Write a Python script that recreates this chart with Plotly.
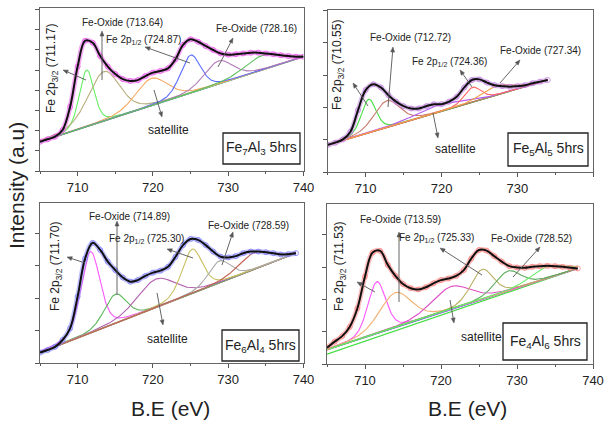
import numpy as np
import plotly.graph_objects as go

W, H = 604, 421
FONT = "Arial, Liberation Sans, sans-serif"

# ---------------- data ----------------
# Panel 1 : Fe7Al3 5hrs
p1_energy = list(range(705, 741))
p1_intensity = [1.45, 1.57, 1.70, 2.03, 3.18, 5.17, 6.45, 6.35, 5.69, 5.17,
                4.80, 4.55, 4.46, 4.50, 4.70, 4.87, 4.95, 5.08, 5.53, 6.24,
                6.52, 6.40, 6.19, 5.99, 5.82, 5.76, 5.78, 5.82, 5.86, 5.86,
                5.82, 5.78, 5.73, 5.69, 5.66, 5.66]
p1_baseline = [(705, 1.45), (740, 5.66)]
p1_centers = [711.2, 713.5, 719.8, 725.0, 728.7, 734.5]
p1_heights = [2.80, 2.45, 1.36, 1.88, 1.15, 0.72]
p1_fwhm = [2.3, 5.0, 5.0, 3.2, 4.5, 5.5]

# Panel 2 : Fe5Al5 5hrs
p2_energy = list(range(705, 735))
p2_intensity = [0.84, 0.91, 1.01, 1.25, 1.92, 2.54, 2.72, 2.62, 2.38, 2.18,
                2.04, 1.97, 1.97, 2.04, 2.10, 2.10, 2.18, 2.33, 2.62, 2.85,
                2.87, 2.77, 2.69, 2.66, 2.64, 2.66, 2.69, 2.75, 2.80, 2.85]
p2_baseline = [(705, 0.84), (734, 2.85)]
p2_centers = [710.4, 712.8, 719.5, 724.1, 727.3]
p2_heights = [1.04, 0.83, 0.22, 0.46, 0.30]
p2_fwhm = [2.3, 4.0, 7.0, 2.6, 4.5]

# Panel 3 : Fe6Al4 5hrs
p3_energy = list(range(705, 740))
p3_intensity = [0.32, 0.40, 0.50, 0.71, 1.07, 2.05, 3.23, 3.71, 3.49, 3.13,
                2.87, 2.64, 2.51, 2.56, 2.69, 2.79, 2.85, 2.97, 3.28, 3.64,
                3.83, 3.80, 3.64, 3.44, 3.28, 3.26, 3.30, 3.39, 3.44, 3.44,
                3.42, 3.39, 3.35, 3.36, 3.39]
p3_baseline = [(705, 0.32), (739, 3.39)]
p3_centers = [711.7, 715.0, 720.4, 725.2, 728.8, 733.5]
p3_heights = [2.51, 0.90, 0.88, 1.37, 0.68, 0.52]
p3_fwhm = [3.0, 3.5, 6.0, 3.2, 3.5, 5.0]

# Panel 4 : Fe4Al6 5hrs
p4_energy = list(range(705, 739))
p4_intensity = [0.51, 0.70, 0.87, 1.16, 1.73, 2.71, 3.45, 3.50, 3.07, 2.73,
                2.48, 2.35, 2.31, 2.38, 2.50, 2.60, 2.65, 2.73, 2.91, 3.27,
                3.53, 3.51, 3.34, 3.17, 3.03, 2.99, 2.98, 3.01, 3.03, 3.04,
                3.03, 3.01, 2.98, 2.96]
p4_baseline = [(705, 0.45), (738, 2.96)]
p4_baseline_low = [(705, 0.31), (738, 2.96)]
p4_centers = [711.55, 714.0, 721.3, 725.4, 728.8, 733.9]
p4_heights = [1.60, 1.08, 0.71, 0.93, 0.62, 0.36]
p4_fwhm = [2.8, 5.0, 6.0, 3.5, 4.0, 5.0]

x_ticks = [710, 720, 730, 740]
sample_labels = ["Fe<sub>7</sub>Al<sub>3</sub> 5hrs", "Fe<sub>5</sub>Al<sub>5</sub> 5hrs",
                 "Fe<sub>6</sub>Al<sub>4</sub> 5hrs", "Fe<sub>4</sub>Al<sub>6</sub> 5hrs"]
peak_labels = [
    ["Fe 2p<sub>3/2</sub> (711.17)", "Fe-Oxide (713.64)", "Fe 2p<sub>1/2</sub> (724.87)", "Fe-Oxide (728.16)"],
    ["Fe 2p<sub>3/2</sub> (710.55)", "Fe-Oxide (712.72)", "Fe 2p<sub>1/2</sub> (724.36)", "Fe-Oxide (727.34)"],
    ["Fe 2p<sub>3/2</sub> (711.70)", "Fe-Oxide (714.89)", "Fe 2p<sub>1/2</sub> (725.30)", "Fe-Oxide (728.59)"],
    ["Fe 2p<sub>3/2</sub> (711.53)", "Fe-Oxide (713.59)", "Fe 2p<sub>1/2</sub> (725.33)", "Fe-Oxide (728.52)"],
]

# ---------------- styling / layout ----------------
panels = [
    dict(energy=p1_energy, inten=p1_intensity, base=p1_baseline, c=p1_centers, h=p1_heights, w=p1_fwhm,
         comp_colors=['#66ee66', '#b8ad7c', '#f5a860', '#5a6cff', '#b07ab8', '#5cbf5c'],
         base_colors=['#5cbf5c', '#f5a860', '#5a6cff'],
         data_color='#ee55ee', px=(40, 303.5), py=(8, 171), ytop=8.07),
    dict(energy=p2_energy, inten=p2_intensity, base=p2_baseline, c=p2_centers, h=p2_heights, w=p2_fwhm,
         comp_colors=['#44dd44', '#c8786a', '#b45cf0', '#ff6666', '#f5a04a'],
         base_colors=['#44dd44', '#f5a04a', '#a03ca0'],
         data_color='#c080e0', px=(327.7, 593.3), py=(10, 172), ytop=5.02),
    dict(energy=p3_energy, inten=p3_intensity, base=p3_baseline, c=p3_centers, h=p3_heights, w=p3_fwhm,
         comp_colors=['#ff55ff', '#5cb85c', '#b060b0', '#c8c060', '#a8a8a8', '#c06050'],
         base_colors=['#5cb85c', '#c06050'],
         data_color='#8080ff', px=(40, 303.5), py=(203, 363), ytop=4.94),
    dict(energy=p4_energy, inten=p4_intensity, base=p4_baseline, c=p4_centers, h=p4_heights, w=p4_fwhm,
         comp_colors=['#ff55ff', '#f2b070', '#e050c8', '#b8b060', '#5caa5c', '#66ee66'],
         base_colors=['#c05090', '#5a6cff'],
         data_color='#ff8080', px=(327, 593), py=(204, 364.3), ytop=4.95),
]


def pv(x, c, h, w, eta=0.3):
    d = (x - c) / w
    g = np.exp(-4 * np.log(2) * d ** 2)
    lo = 1.0 / (1 + 4 * d ** 2)
    return h * (eta * lo + (1 - eta) * g)


def rgba(hexc, a):
    hexc = hexc.lstrip('#')
    r, g, b = int(hexc[0:2], 16), int(hexc[2:4], 16), int(hexc[4:6], 16)
    return f"rgba({r},{g},{b},{a})"


fig = go.Figure()
layout = dict(width=W, height=H, autosize=False, margin=dict(l=0, r=0, t=0, b=0, pad=0),
              paper_bgcolor='white', plot_bgcolor='white', showlegend=False)

for i, p in enumerate(panels):
    k = '' if i == 0 else str(i + 1)
    xa, ya = 'x' + k, 'y' + k
    (e0, b0), (e1, b1) = p['base']
    slope = (b1 - b0) / (e1 - e0)
    xg = np.arange(e0, e1 + 0.001, 0.1)
    base = b0 + slope * (xg - e0)

    for bc in p['base_colors']:
        fig.add_trace(go.Scatter(x=[e0, e1], y=[b0, b1], mode='lines', xaxis=xa, yaxis=ya,
                                 line=dict(color=bc, width=1.1), hoverinfo='skip'))
    if i == 3:
        (f0, g0), (f1, g1) = p4_baseline_low
        fig.add_trace(go.Scatter(x=[f0, f1], y=[g0, g1], mode='lines', xaxis=xa, yaxis=ya,
                                 line=dict(color='#44dd44', width=1.3), hoverinfo='skip'))
    for c, h, w, col in zip(p['c'], p['h'], p['w'], p['comp_colors']):
        fig.add_trace(go.Scatter(x=xg, y=base + pv(xg, c, h, w), mode='lines', xaxis=xa, yaxis=ya,
                                 line=dict(color=col, width=1.1), hoverinfo='skip'))
    fig.add_trace(go.Scatter(x=p['energy'], y=p['inten'], mode='lines', xaxis=xa, yaxis=ya,
                             line=dict(color=rgba(p['data_color'], 0.5), width=5, shape='spline'),
                             hoverinfo='skip'))
    fig.add_trace(go.Scatter(x=p['energy'], y=p['inten'], mode='markers', xaxis=xa, yaxis=ya,
                             marker=dict(symbol='circle-open', size=5, color=p['data_color'],
                                         line=dict(width=0.8)), hoverinfo='skip'))
    fig.add_trace(go.Scatter(x=p['energy'], y=p['inten'], mode='lines', xaxis=xa, yaxis=ya,
                             line=dict(color='#111111', width=2, shape='spline'), hoverinfo='skip'))

    xd = [p['px'][0] / W, p['px'][1] / W]
    yd = [1 - p['py'][1] / H, 1 - p['py'][0] / H]
    layout['xaxis' + k] = dict(domain=xd, range=[705, 740], anchor=ya, tickvals=x_ticks,
                               automargin=False,
                               ticks='outside', ticklen=4, tickcolor='#555',
                               tickfont=dict(family=FONT, size=13, color='#222'),
                               showline=True, linecolor='#666', linewidth=1, mirror=True,
                               showgrid=False, zeroline=False,
                               minor=dict(tickvals=[705, 715, 725, 735], ticks='outside',
                                          ticklen=2, tickcolor='#555'))
    layout['yaxis' + k] = dict(domain=yd, range=[0, p['ytop']], anchor=xa, dtick=1, tick0=0,
                               automargin=False,
                               ticks='outside', ticklen=4, tickcolor='#555', showticklabels=False,
                               showline=True, linecolor='#666', linewidth=1, mirror=True,
                               showgrid=False, zeroline=False)

annotations = []
shapes = []


def P(px, py):
    return px / W, 1 - py / H


def text(px, py, t, size=10, angle=0, color='#222'):
    x, y = P(px, py)
    annotations.append(dict(x=x, y=y, xref='paper', yref='paper', text=t, showarrow=False,
                            textangle=angle, xanchor='center', yanchor='middle',
                            font=dict(family=FONT, size=size, color=color)))


def arrow(head, tail, col='#555'):
    hx, hy = head
    tx, ty = tail
    dx, dy = hx - tx, hy - ty
    n = (dx * dx + dy * dy) ** 0.5
    ux, uy = dx / n, dy / n
    L, Wd = 5.0, 2.0
    bx, by = hx - ux * L, hy - uy * L
    p1 = P(bx - uy * Wd, by + ux * Wd)
    p2 = P(bx + uy * Wd, by - ux * Wd)
    ph = P(hx, hy)
    a0, a1 = P(tx, ty), P(bx, by)
    shapes.append(dict(type='line', xref='paper', yref='paper', x0=a0[0], y0=a0[1], x1=a1[0], y1=a1[1],
                       line=dict(color=col, width=0.9)))
    shapes.append(dict(type='path', xref='paper', yref='paper',
                       path=f"M {ph[0]} {ph[1]} L {p1[0]} {p1[1]} L {p2[0]} {p2[1]} Z",
                       fillcolor=col, line=dict(color=col, width=0.5)))


vert_pos = [(52, 69), (338, 65), (56, 267), (340, 267)]
oxide1_pos = [(122, 23), (410, 38), (129, 216), (400, 220)]
p12_pos = [(143, 40), (449, 62), (146, 239), (436, 238)]
oxide2_pos = [(256, 28), (540, 51), (248, 225), (531, 238)]
sat_pos = [(168, 130), (455, 149), (167, 339), (481, 337)]
box_rects = [(223, 133, 300, 164), (508, 133, 588, 166), (222, 330, 299, 361), (503, 323, 587, 360)]
arrows = [
    [((63, 70), (86, 80)), ((102, 31), (102, 80)), ((145, 47), (190, 63)), ((233, 38), (218, 67)), ((162, 117), (154, 90))],
    [((353, 83), (368, 106)), ((393, 47), (388, 107)), ((460, 70), (472, 87)), ((520, 60), (500, 83)), ((438, 138), (433, 113))],
    [((67, 257), (85, 263)), ((117, 221), (117, 295)), ((167, 249), (193, 258)), ((233, 232), (222, 265)), ((163, 325), (157, 293))],
    [((357, 282), (375, 292)), ((399, 232), (399, 302)), ((440, 248), (482, 275)), ((540, 247), (513, 277)), ((454, 323), (450, 300))],
]

for i in range(4):
    for hd, tl in arrows[i]:
        arrow(hd, tl)
    text(*vert_pos[i], peak_labels[i][0], size=12, angle=-90)
    text(*oxide1_pos[i], peak_labels[i][1], size=10)
    text(*p12_pos[i], peak_labels[i][2], size=10)
    text(*oxide2_pos[i], peak_labels[i][3], size=10)
    text(*sat_pos[i], "satellite", size=12)
    x0p, y0p, x1p, y1p = box_rects[i]
    a, b = P(x0p, y0p)
    c, d = P(x1p, y1p)
    shapes.append(dict(type='rect', xref='paper', yref='paper', x0=a, y0=d, x1=c, y1=b,
                       line=dict(color='#222', width=1.3), fillcolor='white', layer='above'))
    text((x0p + x1p) / 2, (y0p + y1p) / 2, sample_labels[i], size=14)

text(17, 186, "Intensity (a.u)", size=21, angle=-90)
text(170, 408, "B.E (eV)", size=21)
text(467, 408, "B.E (eV)", size=21)

layout['annotations'] = annotations
layout['shapes'] = shapes
fig.update_layout(**layout)
fig.write_html("out.html", config={'displayModeBar': False, 'responsive': False},
               post_script="document.documentElement.style.overflow='hidden';"
                           "document.body.style.overflow='hidden';"
                           "document.body.style.margin='0px';document.body.style.padding='0px';")
